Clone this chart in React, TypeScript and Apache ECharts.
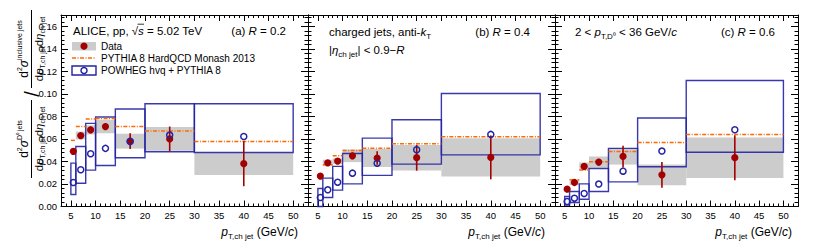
import React, { useEffect, useRef } from "react";
import * as echarts from "echarts";

const FONT = '"Liberation Sans", Arial, Helvetica, sans-serif';

const binLo = [5, 6, 8, 10, 14, 20, 30];
const binHi = [6, 8, 10, 14, 20, 30, 50];
const binCenter = [5.5, 7, 9, 12, 17, 25, 40];

// (a) R = 0.2
const dataR02 = [0.049, 0.063, 0.068, 0.071, 0.058, 0.06, 0.038];
const statR02 = [0.002, 0.002, 0.003, 0.003, 0.007, 0.011, 0.02];
const sysR02 = [0.003, 0.0035, 0.004, 0.006, 0.0066, 0.0105, 0.01];
const pythiaR02 = [0.0587, 0.0711, 0.0776, 0.0782, 0.0711, 0.067, 0.0578];
const powhegR02 = [0.0213, 0.0326, 0.0468, 0.0516, 0.0578, 0.0634, 0.0622];
const powhegLoR02 = [0.0107, 0.0207, 0.0323, 0.0364, 0.0433, 0.0486, 0.048];
const powhegHiR02 = [0.0385, 0.0533, 0.0738, 0.0794, 0.0865, 0.0912, 0.0912];

// (b) R = 0.4
const dataR04 = [0.027, 0.0388, 0.0403, 0.045, 0.043, 0.0433, 0.0436];
const statR04 = [0.001, 0.0015, 0.002, 0.003, 0.006, 0.0115, 0.0195];
const sysR04 = [0.0015, 0.0027, 0.0025, 0.0056, 0.008, 0.0113, 0.017];
const pythiaR04 = [0.0284, 0.037, 0.045, 0.0498, 0.0516, 0.0557, 0.0619];
const powhegR04 = [0.008, 0.0148, 0.0216, 0.0296, 0.0385, 0.0504, 0.064];
const powhegLoR04 = [0.0, 0.008, 0.0145, 0.0201, 0.0276, 0.0376, 0.0458];
const powhegHiR04 = [0.016, 0.0252, 0.0356, 0.0471, 0.0607, 0.077, 0.1003];

// (c) R = 0.6
const dataR06 = [0.0154, 0.0213, 0.0356, 0.0394, 0.0444, 0.0281, 0.0433];
const statR06 = [0.001, 0.0015, 0.002, 0.003, 0.0095, 0.0114, 0.02];
const sysR06 = [0.0015, 0.0024, 0.0035, 0.005, 0.0072, 0.0092, 0.018];
const pythiaR06 = [0.016, 0.0237, 0.0323, 0.0397, 0.0489, 0.0569, 0.064];
const powhegR06 = [0.0044, 0.0074, 0.0116, 0.0199, 0.0314, 0.0492, 0.0681];
const powhegLoR06 = [0.0012, 0.0036, 0.0065, 0.0133, 0.0219, 0.0353, 0.0482];
const powhegHiR06 = [0.0089, 0.0133, 0.0201, 0.0338, 0.0516, 0.0785, 0.1119];

const xTickValues = [5, 10, 15, 20, 25, 30, 35, 40, 45, 50];
const X_MIN = 3;
const X_MAX = 53;
const Y_MAX = 0.17;

const RED = "#a30000";
const BLUE = "#2323a3";
const ORANGE = "#ff6a00";
const GREY = "#cccccc";

const panels = [
  { data: dataR02, stat: statR02, sys: sysR02, pythia: pythiaR02, pw: powhegR02, pwLo: powhegLoR02, pwHi: powhegHiR02 },
  { data: dataR04, stat: statR04, sys: sysR04, pythia: pythiaR04, pw: powhegR04, pwLo: powhegLoR04, pwHi: powhegHiR04 },
  { data: dataR06, stat: statR06, sys: sysR06, pythia: pythiaR06, pw: powhegR06, pwLo: powhegLoR06, pwHi: powhegHiR06 },
];

const gridBoxes = [
  { left: 61, width: 247 },
  { left: 308, width: 247 },
  { left: 555, width: 243 },
];
const GRID_TOP = 15;
const GRID_H = 191.5;

function richStyles(size: number) {
  const lh = size + 5;
  return {
    n: { fontSize: size, fontFamily: FONT, color: "#000", verticalAlign: "middle", lineHeight: lh },
    i: { fontSize: size, fontFamily: FONT, fontStyle: "italic", color: "#000", verticalAlign: "middle", lineHeight: lh },
    sb: { fontSize: Math.round(size * 0.66), fontFamily: FONT, color: "#000", verticalAlign: "bottom", lineHeight: Math.round(size * 0.66) },
    sp: { fontSize: Math.round(size * 0.62), fontFamily: FONT, color: "#000", verticalAlign: "top", lineHeight: Math.round(size * 0.62) },
  };
}

function txt(x: number, y: number, text: string, size: number, align = "left", valign = "middle") {
  return {
    type: "text",
    x,
    y,
    silent: true,
    style: {
      text,
      rich: richStyles(size),
      fontSize: size,
      fontFamily: FONT,
      fill: "#000",
      align,
      textAlign: align,
      verticalAlign: valign,
      textVerticalAlign: valign,
    },
  };
}

function buildOption() {
  const xAxis: any[] = [];
  const yAxis: any[] = [];
  const grid: any[] = [];
  const series: any[] = [];
  const black = { color: "#000", width: 1 };

  gridBoxes.forEach((gb, g) => {
    grid.push({ left: gb.left, top: GRID_TOP, width: gb.width, height: GRID_H, containLabel: false, outerBoundsMode: "none" });
    const baseX = { gridIndex: g, type: "value", min: X_MIN, max: X_MAX, splitLine: { show: false } };
    xAxis.push({
      ...baseX,
      position: "bottom",
      axisLine: { show: true, onZero: false, lineStyle: black },
      axisTick: { show: true, inside: true, length: 6, customValues: xTickValues, lineStyle: black },
      axisLabel: { show: true, customValues: xTickValues, fontSize: 9.5, fontFamily: FONT, color: "#000", margin: 4 },
    });
    xAxis.push({
      ...baseX,
      position: "bottom",
      interval: 1,
      axisLine: { show: false, onZero: false },
      axisTick: { show: true, inside: true, length: 3, lineStyle: black },
      axisLabel: { show: false },
    });
    xAxis.push({
      ...baseX,
      position: "top",
      axisLine: { show: true, onZero: false, lineStyle: black },
      axisTick: { show: true, inside: true, length: 6, customValues: xTickValues, lineStyle: black },
      axisLabel: { show: false },
    });
    xAxis.push({
      ...baseX,
      position: "top",
      interval: 1,
      axisLine: { show: false, onZero: false },
      axisTick: { show: true, inside: true, length: 3, lineStyle: black },
      axisLabel: { show: false },
    });

    const baseY = { gridIndex: g, type: "value", min: 0, max: Y_MAX, splitLine: { show: false } };
    yAxis.push({
      ...baseY,
      position: "left",
      interval: 0.02,
      axisLine: { show: true, onZero: false, lineStyle: black },
      axisTick: { show: true, inside: true, length: 7, lineStyle: black },
      axisLabel: {
        show: g === 0,
        fontSize: 9.5,
        fontFamily: FONT,
        color: "#000",
        margin: 4,
        formatter: (v: number) => (Math.abs(v * 50 - Math.round(v * 50)) < 1e-6 ? v.toFixed(2) : ""),
      },
    });
    yAxis.push({
      ...baseY,
      position: "left",
      interval: 0.004,
      axisLine: { show: false, onZero: false },
      axisTick: { show: true, inside: true, length: 3.5, lineStyle: black },
      axisLabel: { show: false },
    });
    yAxis.push({
      ...baseY,
      position: "right",
      interval: 0.02,
      axisLine: { show: true, onZero: false, lineStyle: black },
      axisTick: { show: true, inside: true, length: 7, lineStyle: black },
      axisLabel: { show: false },
    });
    yAxis.push({
      ...baseY,
      position: "right",
      interval: 0.004,
      axisLine: { show: false, onZero: false },
      axisTick: { show: true, inside: true, length: 3.5, lineStyle: black },
      axisLabel: { show: false },
    });

    const p = panels[g];
    const xi = 4 * g;
    const yi = 4 * g;

    const rectItem = (style: any) => (params: any, api: any) => {
      const a = api.coord([api.value(0), api.value(3)]);
      const b = api.coord([api.value(1), api.value(2)]);
      return {
        type: "rect",
        shape: { x: a[0], y: a[1], width: b[0] - a[0], height: b[1] - a[1] },
        style,
      };
    };

    // data systematic boxes
    series.push({
      type: "custom",
      xAxisIndex: xi,
      yAxisIndex: yi,
      silent: true,
      data: binLo.map((lo, k) => [lo, binHi[k], p.data[k] - p.sys[k], p.data[k] + p.sys[k]]),
      renderItem: rectItem({ fill: GREY, stroke: "none" }),
    });
    // POWHEG boxes
    series.push({
      type: "custom",
      xAxisIndex: xi,
      yAxisIndex: yi,
      silent: true,
      data: binLo.map((lo, k) => [lo, binHi[k], p.pwLo[k], p.pwHi[k]]),
      renderItem: rectItem({ fill: "none", stroke: BLUE, lineWidth: 1.4, opacity: 0.9 }),
    });
    // PYTHIA lines
    series.push({
      type: "custom",
      xAxisIndex: xi,
      yAxisIndex: yi,
      silent: true,
      data: binLo.map((lo, k) => [lo, binHi[k], p.pythia[k]]),
      renderItem: (params: any, api: any) => {
        const a = api.coord([api.value(0), api.value(2)]);
        const b = api.coord([api.value(1), api.value(2)]);
        return {
          type: "line",
          shape: { x1: a[0], y1: a[1], x2: b[0], y2: b[1] },
          style: { stroke: ORANGE, lineWidth: 1.5, lineDash: [4, 1.5, 1, 1.5] },
        };
      },
    });
    // data points with stat errors
    series.push({
      type: "custom",
      xAxisIndex: xi,
      yAxisIndex: yi,
      silent: true,
      data: binCenter.map((c, k) => [c, p.data[k], p.stat[k]]),
      renderItem: (params: any, api: any) => {
        const c = api.coord([api.value(0), api.value(1)]);
        const t = api.coord([api.value(0), api.value(1) + api.value(2)]);
        const b = api.coord([api.value(0), api.value(1) - api.value(2)]);
        return {
          type: "group",
          children: [
            { type: "line", shape: { x1: t[0], y1: t[1], x2: b[0], y2: b[1] }, style: { stroke: RED, lineWidth: 1.6 } },
            { type: "circle", shape: { cx: c[0], cy: c[1], r: 3.6 }, style: { fill: RED, stroke: "none" } },
          ],
        };
      },
    });
    // POWHEG central values
    series.push({
      type: "custom",
      xAxisIndex: xi,
      yAxisIndex: yi,
      silent: true,
      data: binCenter.map((c, k) => [c, p.pw[k]]),
      renderItem: (params: any, api: any) => {
        const c = api.coord([api.value(0), api.value(1)]);
        return {
          type: "circle",
          shape: { cx: c[0], cy: c[1], r: 3 },
          style: { fill: "none", stroke: BLUE, lineWidth: 1.5 },
        };
      },
    });
  });

  // y-axis title (rotated fraction / fraction)
  const mkText = (x: number, y: number, text: string, valign: string, rich: any) => ({
    type: "text",
    x,
    y,
    silent: true,
    style: {
      text,
      rich,
      fontFamily: FONT,
      fill: "#000",
      align: "center",
      textAlign: "center",
      verticalAlign: valign,
      textVerticalAlign: valign,
    },
  });
  const numRich = {
    m: { fontSize: 12, fontFamily: FONT, color: "#000", verticalAlign: "bottom", lineHeight: 14 },
    mi: { fontSize: 12, fontFamily: FONT, fontStyle: "italic", color: "#000", verticalAlign: "bottom", lineHeight: 14 },
    sp: { fontSize: 7, fontFamily: FONT, color: "#000", verticalAlign: "top", lineHeight: 7 },
  };
  const denRich = {
    m: { fontSize: 11.5, fontFamily: FONT, color: "#000", verticalAlign: "middle", lineHeight: 13 },
    mi: { fontSize: 11.5, fontFamily: FONT, fontStyle: "italic", color: "#000", verticalAlign: "middle", lineHeight: 13 },
    sb: { fontSize: 7, fontFamily: FONT, color: "#000", verticalAlign: "bottom", lineHeight: 6 },
  };
  const den = "{m|d}{mi|p}{sb|T,ch jet}{m|d}{mi|η}{sb|ch jet}";
  const yTitle = {
    type: "group",
    x: 14,
    y: 178,
    rotation: Math.PI / 2,
    silent: true,
    children: [
      mkText(39, 16, "{m|d}{sp|2}{mi|σ}{sp|D⁰ jets}", "bottom", numRich),
      { type: "line", shape: { x1: 0, y1: 17.5, x2: 78, y2: 17.5 }, style: { stroke: "#000", lineWidth: 1 } },
      mkText(39, 18.5, den, "top", denRich),
      {
        type: "text",
        x: 84,
        y: 18,
        style: { text: "/", fontSize: 20, fontFamily: FONT, fill: "#000", align: "center", textAlign: "center", verticalAlign: "middle", textVerticalAlign: "middle" },
      },
      mkText(129, 16, "{m|d}{sp|2}{mi|σ}{sp|inclusive jets}", "bottom", numRich),
      { type: "line", shape: { x1: 90, y1: 17.5, x2: 168, y2: 17.5 }, style: { stroke: "#000", lineWidth: 1 } },
      mkText(129, 18.5, den, "top", denRich),
    ],
  };

  const xTitle = "{i|p}{sb|T,ch jet}{n| (GeV/}{i|c}{n|)}";

  const graphic: any[] = [
    yTitle,
    // panel (a)
    txt(73, 31, "{n|ALICE, pp, √}{i|s}{n| = 5.02 TeV}", 11.5),
    { type: "line", shape: { x1: 137.5, y1: 24.2, x2: 144, y2: 24.2 }, style: { stroke: "#000", lineWidth: 0.8 }, silent: true },
    txt(286, 31, "{n|(a) }{i|R}{n| = 0.2}", 11.5, "right"),
    { type: "rect", shape: { x: 72, y: 42, width: 24, height: 8.5 }, style: { fill: GREY, stroke: "none" }, silent: true },
    { type: "circle", shape: { cx: 84, cy: 46.2, r: 3.6 }, style: { fill: RED }, silent: true },
    txt(101, 46, "{n|Data}", 10),
    { type: "line", shape: { x1: 72, y1: 58, x2: 96, y2: 58 }, style: { stroke: ORANGE, lineWidth: 1.5, lineDash: [4, 1.5, 1, 1.5] }, silent: true },
    txt(101, 58, "{n|PYTHIA 8 HardQCD Monash 2013}", 10),
    { type: "rect", shape: { x: 72, y: 66, width: 24, height: 9 }, style: { fill: "none", stroke: BLUE, lineWidth: 1.4 }, silent: true },
    { type: "circle", shape: { cx: 84, cy: 70.5, r: 3 }, style: { fill: "none", stroke: BLUE, lineWidth: 1.5 }, silent: true },
    txt(101, 70, "{n|POWHEG hvq + PYTHIA 8}", 10),
    txt(298, 232, xTitle, 12, "right"),
    // panel (b)
    txt(329, 32, "{n|charged jets, anti-}{i|k}{sb|T}", 11.5),
    txt(530, 32, "{n|(b) }{i|R}{n| = 0.4}", 11.5, "right"),
    txt(329, 50, "{n||}{i|η}{sb|ch jet}{n|| < 0.9−}{i|R}", 11.5),
    txt(545, 232, xTitle, 12, "right"),
    // panel (c)
    txt(575, 32, "{n|2 < }{i|p}{sb|T,D⁰}{n| < 36 GeV/}{i|c}", 11.5),
    txt(775, 32, "{n|(c) }{i|R}{n| = 0.6}", 11.5, "right"),
    txt(792, 232, xTitle, 12, "right"),
  ];

  return {
    animation: false,
    backgroundColor: "#fff",
    grid,
    xAxis,
    yAxis,
    series,
    graphic,
  };
}

export default function App() {
  const ref = useRef<HTMLDivElement>(null);
  useEffect(() => {
    if (!ref.current) return;
    const chart = echarts.init(ref.current, undefined, { renderer: "svg" });
    chart.setOption(buildOption() as any);
    return () => chart.dispose();
  }, []);
  return (
    <div
      ref={ref}
      style={{ position: "fixed", left: 0, top: 0, width: 830, height: 249, background: "#fff" }}
    />
  );
}
